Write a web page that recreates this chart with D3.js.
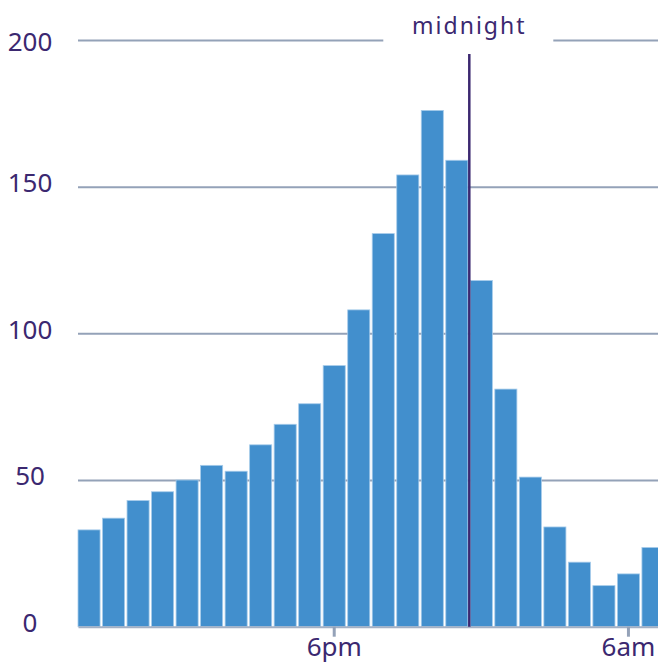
<!DOCTYPE html>
<html>
<head>
<meta charset="utf-8">
<script src="https://cdn.jsdelivr.net/npm/d3@7"></script>
<style>
  body { margin: 0; background: #fff; overflow: hidden; }
  text { font-family: "Noto Sans", sans-serif; fill: #3b2870; }
</style>
</head>
<body>
<div id="chart"></div>
<script>
// hourly bins, starting at 8am and wrapping past midnight
const hours = [8, 9, 10, 11, 12, 13, 14, 15, 16, 17, 18, 19, 20, 21, 22, 23, 0, 1, 2, 3, 4, 5, 6, 7];
const counts = [33, 37, 43, 46, 50, 55, 53, 62, 69, 76, 89, 108, 134, 154, 176, 159, 118, 81, 51, 34, 22, 14, 18, 27];
const yTicks = [0, 50, 100, 150, 200];
const xTicks = [18, 6];
const xTickLabels = ['6pm', '6am'];
const markerHour = 0;
const markerLabel = 'midnight';

const config = {
  width: 658,
  height: 664,
  left: 78,
  right: 664,
  top: 40,
  bottom: 626.7,
};

const svg = d3.select('#chart').append('svg')
  .attr('width', config.width)
  .attr('height', config.height);

const xScale = d3.scaleBand()
  .domain(hours)
  .range([config.left, config.right])
  .paddingInner(0.1)
  .paddingOuter(0);

const yScale = d3.scaleLinear()
  .domain([0, 200])
  .range([config.bottom, config.top]);

// gridlines (behind bars)
const yAxis = d3.axisLeft(yScale)
  .tickValues(yTicks.filter((d) => d > 0))
  .tickSize(-(config.right - config.left))
  .tickFormat('');

svg.append('g')
  .attr('class', 'grid')
  .attr('transform', `translate(${config.left},0)`)
  .call(yAxis)
  .call((g) => g.select('.domain').remove())
  .selectAll('line')
  .attr('stroke', '#94a2b8')
  .attr('stroke-width', 2);

// y labels
svg.append('g')
  .selectAll('text')
  .data(yTicks)
  .join('text')
  .attr('x', 30)
  .attr('y', (d) => Math.max(yScale(d) - 4, 41.5))
  .attr('dy', '0.36em')
  .attr('text-anchor', 'middle')
  .style('font-size', '26px')
  .text((d) => d);

// bars
svg.append('g')
  .selectAll('.bar')
  .data(hours.map((h, i) => ({ hour: h, value: counts[i] })))
  .join('rect')
  .attr('class', 'bar')
  .attr('x', (d) => xScale(d.hour))
  .attr('y', (d) => yScale(d.value))
  .attr('width', xScale.bandwidth())
  .attr('height', (d) => yScale(0) - yScale(d.value))
  .attr('fill', '#428fcd')
  .attr('stroke', '#a6cbea')
  .attr('stroke-width', 0.8);

// bottom axis
const xAxis = d3.axisBottom(xScale)
  .tickValues(xTicks)
  .tickSize(10)
  .tickSizeOuter(0)
  .tickFormat((d) => xTickLabels[xTicks.indexOf(d)]);

const xAxisG = svg.append('g')
  .attr('transform', `translate(0,${config.bottom})`)
  .call(xAxis);

xAxisG.select('.domain')
  .attr('stroke', '#a3b0c4')
  .attr('stroke-width', 2);
xAxisG.selectAll('.tick line')
  .attr('stroke', '#94a2b8')
  .attr('stroke-width', 3);
xAxisG.selectAll('.tick text')
  .attr('y', 29)
  .attr('dy', 0)
  .style('font-size', '26px')
  .style('font-family', '"Noto Sans", sans-serif')
  .attr('fill', '#3b2870');

// midnight marker
const mx = xScale(markerHour) - 1;
svg.append('line')
  .attr('x1', mx)
  .attr('x2', mx)
  .attr('y1', 54)
  .attr('y2', config.bottom)
  .attr('stroke', '#3b2870')
  .attr('stroke-width', 2.5);

svg.append('rect')
  .attr('x', mx - 86)
  .attr('y', 10)
  .attr('width', 170)
  .attr('height', 40)
  .attr('fill', '#fff');

svg.append('text')
  .attr('x', mx)
  .attr('y', 34)
  .attr('text-anchor', 'middle')
  .style('font-size', '23px')
  .style('letter-spacing', '2px')
  .text(markerLabel);
</script>
</body>
</html>
